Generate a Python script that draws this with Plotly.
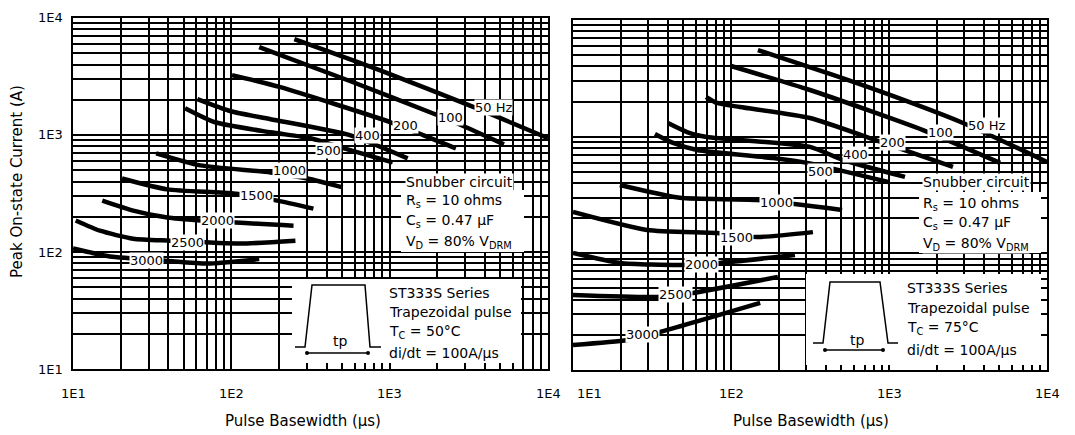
import numpy as np
import plotly.graph_objects as go

# ---------------- data ----------------
CURVE_LABELS = ["50 Hz", "100", "200", "400", "500", "1000", "1500", "2000", "2500", "3000"]

# Left panel  (Tc = 50 C)
L_50_X = [250, 880, 3400, 10000];            L_50_Y = [6600, 3550, 1730, 940]
L_100_X = [150, 566, 2010, 2940, 5270];      L_100_Y = [5640, 2880, 1476, 1189, 832]
L_200_X = [101, 204, 1014, 1641, 2620];      L_200_Y = [3250, 2564, 1285, 994, 769]
L_400_X = [61, 99, 177, 566, 1300];          L_400_Y = [2023, 1596, 1365, 994, 631]
L_500_X = [51, 79, 177, 316, 490, 1045];     L_500_Y = [1694, 1285, 1055, 938, 785, 583]
L_1000_X = [33.5, 63.7, 177, 303, 505];      L_1000_Y = [697, 550, 479, 425, 357]
L_1500_X = [20.4, 39.4, 103, 195, 330];      L_1500_Y = [425, 343, 316, 275, 235]
L_2000_X = [15.3, 24, 39.4, 63.7, 247];      L_2000_Y = [275, 226, 197, 186, 168]
L_2500_X = [10.4, 14.8, 24, 41, 114, 254];   L_2500_Y = [186, 152, 130, 125, 118, 125]
L_3000_X = [10, 17.1, 38.2, 70.5, 150];      L_3000_Y = [107, 91.5, 84.4, 79.6, 87]

L_LABEL_X = [4550, 2430, 1262, 726, 411, 233, 144, 81.5, 52.7, 29]
L_LABEL_Y = [1726, 1419, 1211, 994, 740, 499, 304, 186, 120.5, 84.4]

# Right panel (Tc = 75 C)
R_50_X = [148, 442, 1014, 2940, 10000];      R_50_Y = [5530, 3382, 2277, 1309, 607]
R_100_X = [100, 316, 1641, 5050];            R_100_Y = [4036, 2512, 1140, 596]
R_200_X = [69.5, 81.5, 114, 316, 815, 2540]; R_200_Y = [2188, 1945, 1795, 1445, 938, 550]
R_400_X = [39.9, 52.7, 70.5, 316, 512, 1262]; R_400_Y = [1309, 1096, 994, 817, 631, 452]
R_500_X = [33, 43, 61, 184.5, 303, 986];     R_500_Y = [1055, 883, 769, 656, 596, 409]
R_1000_X = [19.8, 47.5, 146, 505];           R_1000_Y = [385, 299, 287, 235]
R_1500_X = [10, 29.4, 81.5, 146, 330];       R_1500_Y = [226, 158.5, 149.6, 138, 152]
R_2000_X = [10, 19.8, 49.7, 85, 254];        R_2000_Y = [100.7, 82.8, 79.6, 82.8, 96.8]
R_2500_X = [10, 34, 57.4, 198];              R_2500_Y = [44, 42.3, 45.8, 62.8]
R_3000_X = [10, 22, 35.6, 153];              R_3000_Y = [16.4, 18.1, 21.2, 37.6]

R_LABEL_X = [4170, 2133, 1059, 618, 371, 193, 109, 65.5, 44.3, 27.7]
R_LABEL_Y = [1259, 1096, 883, 697, 499, 275, 138, 79.6, 44, 20]

DECADES = [10, 100, 1000]
MANTISSAS = [1, 2, 3, 4, 5, 6, 7, 8, 9]
MAJOR_TICKS = [10, 100, 1000, 10000]
MAJOR_TEXT = ["1E1", "1E2", "1E3", "1E4"]

LEFT_NOTE = ["Snubber circuit", "R<sub>s</sub> = 10 ohms", "C<sub>s</sub> = 0.47 µF",
             "V<sub>D</sub> = 80% V<sub>DRM</sub>"]
LEFT_BOX = ["ST333S Series", "Trapezoidal pulse", "T<sub>C</sub> = 50°C", "di/dt = 100A/µs"]
RIGHT_BOX = ["ST333S Series", "Trapezoidal pulse", "T<sub>C</sub> = 75°C", "di/dt = 100A/µs"]

# ---------------- figure ----------------
W, H = 1075, 435
OFF = 8          # page body margin of the html page
FONT = "DejaVu Sans"


def px(x):
    return (x - OFF) / W


def py(y):
    return 1 - (y - OFF) / H


def fnt(size):
    return dict(size=size, color="black", family=FONT)


grid_vals = [d * m for d in DECADES for m in MANTISSAS] + [10000]

fig = go.Figure()

left_curves = [(L_50_X, L_50_Y), (L_100_X, L_100_Y), (L_200_X, L_200_Y), (L_400_X, L_400_Y),
               (L_500_X, L_500_Y), (L_1000_X, L_1000_Y), (L_1500_X, L_1500_Y),
               (L_2000_X, L_2000_Y), (L_2500_X, L_2500_Y), (L_3000_X, L_3000_Y)]
right_curves = [(R_50_X, R_50_Y), (R_100_X, R_100_Y), (R_200_X, R_200_Y), (R_400_X, R_400_Y),
                (R_500_X, R_500_Y), (R_1000_X, R_1000_Y), (R_1500_X, R_1500_Y),
                (R_2000_X, R_2000_Y), (R_2500_X, R_2500_Y), (R_3000_X, R_3000_Y)]

for (xs, ys), name in zip(left_curves, CURVE_LABELS):
    fig.add_trace(go.Scatter(x=xs, y=ys, mode="lines", name=name, xaxis="x", yaxis="y",
                             line=dict(color="black", width=4.5, shape="spline", smoothing=0.6),
                             showlegend=False, hoverinfo="skip"))
for (xs, ys), name in zip(right_curves, CURVE_LABELS):
    fig.add_trace(go.Scatter(x=xs, y=ys, mode="lines", name=name, xaxis="x2", yaxis="y2",
                             line=dict(color="black", width=4.5, shape="spline", smoothing=0.6),
                             showlegend=False, hoverinfo="skip"))

annotations = []
for lab, x, y in zip(CURVE_LABELS, L_LABEL_X, L_LABEL_Y):
    annotations.append(dict(x=float(np.log10(x)), y=float(np.log10(y)), xref="x", yref="y",
                            text=lab, xanchor="center", yanchor="middle",
                            showarrow=False, bgcolor="white", borderpad=0, font=fnt(13)))
for lab, x, y in zip(CURVE_LABELS, R_LABEL_X, R_LABEL_Y):
    annotations.append(dict(x=float(np.log10(x)), y=float(np.log10(y)), xref="x2", yref="y2",
                            text=lab, xanchor="center", yanchor="middle",
                            showarrow=False, bgcolor="white", borderpad=0, font=fnt(13)))

# tick labels
for v, t in zip(MAJOR_TICKS, MAJOR_TEXT):
    lv = float(np.log10(v))
    annotations.append(dict(x=lv, y=py(393), xref="x", yref="paper", text=t,
                            xanchor="center", yanchor="middle", showarrow=False, font=fnt(13)))
    annotations.append(dict(x=lv, y=py(393), xref="x2", yref="paper", text=t,
                            xanchor="left" if v == 10 else "center", xshift=2 if v == 10 else 0,
                            yanchor="middle", showarrow=False, font=fnt(13)))
    annotations.append(dict(x=px(65), y=lv, xref="paper", yref="y", text=t,
                            xanchor="right", yanchor="middle", showarrow=False, font=fnt(13)))

# text blocks
for lines, x0, ys in [(LEFT_NOTE, 405, [182, 201, 221, 242]),
                      (LEFT_BOX, 388, [293, 312, 332, 353]),
                      (LEFT_NOTE, 922, [182, 204, 223, 244]),
                      (RIGHT_BOX, 906, [288, 308, 328, 350])]:
    for t, y in zip(lines, ys):
        annotations.append(dict(x=px(x0), y=py(y), xref="paper", yref="paper", text=t,
                                xanchor="left", yanchor="middle", showarrow=False,
                                bgcolor="white", borderpad=0, font=fnt(14)))

# tp labels
for x, y in [(340, 341), (857, 340)]:
    annotations.append(dict(x=px(x), y=py(y), xref="paper", yref="paper", text="tp",
                            xanchor="center", yanchor="middle", showarrow=False, font=fnt(14)))

# axis titles
annotations.append(dict(x=px(17), y=py(182), xref="paper", yref="paper",
                        text="Peak On-state Current (A)", textangle=-90, showarrow=False,
                        xanchor="center", yanchor="middle", font=fnt(15)))
for x in [303, 811]:
    annotations.append(dict(x=px(x), y=py(421), xref="paper", yref="paper",
                            text="Pulse Basewidth (µs)", showarrow=False,
                            xanchor="center", yanchor="middle", font=fnt(15)))

shapes = []
# white boxes behind the text blocks
for x0, y0, x1, y1 in [(401, 190, 524, 252), (292, 279, 521, 363),
                       (919, 192, 1041, 253), (806, 274, 1041, 365)]:
    shapes.append(dict(type="rect", xref="paper", yref="paper", x0=px(x0), x1=px(x1),
                       y0=py(y1), y1=py(y0), fillcolor="white", line=dict(width=0),
                       layer="above"))

# trapezoid pulse sketches
for (ex0, bl, tl, tr, br, ex1, ytop, ybot, ay, ax0, ax1) in [
        (295, 305, 312, 365, 370, 381, 285, 347, 353, 307, 368),
        (813, 823, 830, 880, 888, 898, 282, 343, 350, 825, 883)]:
    path = (f"M {px(ex0)},{py(ybot)} L {px(bl)},{py(ybot)} L {px(tl)},{py(ytop)} "
            f"L {px(tr)},{py(ytop)} L {px(br)},{py(ybot)} L {px(ex1)},{py(ybot)}")
    shapes.append(dict(type="path", xref="paper", yref="paper", path=path,
                       line=dict(color="black", width=1.5), layer="above"))
    shapes.append(dict(type="line", xref="paper", yref="paper", x0=px(ax0), x1=px(ax1),
                       y0=py(ay), y1=py(ay), line=dict(color="black", width=1.5), layer="above"))
    for cx in (ax0, ax1):
        shapes.append(dict(type="circle", xref="paper", yref="paper",
                           x0=px(cx - 2), x1=px(cx + 2), y0=py(ay + 2), y1=py(ay - 2),
                           fillcolor="black", line=dict(width=0), layer="above"))

axis_common = dict(type="log", range=[1, 4], tickvals=grid_vals, showticklabels=False,
                   automargin=False,
                   showgrid=True, gridcolor="black", gridwidth=1.5, zeroline=False,
                   showline=True, linecolor="black", linewidth=2, mirror=True, ticks="")

fig.update_layout(
    width=W, height=H, margin=dict(l=0, r=0, t=0, b=0, pad=0, autoexpand=False),
    paper_bgcolor="white", plot_bgcolor="white",
    font=dict(family=FONT, color="black"),
    xaxis=dict(domain=[px(73), px(548)], anchor="y", **axis_common),
    yaxis=dict(domain=[py(369), py(18)], anchor="x", **axis_common),
    xaxis2=dict(domain=[px(573), px(1047)], anchor="y2", **axis_common),
    yaxis2=dict(domain=[py(370), py(20)], anchor="x2", **axis_common),
    annotations=annotations, shapes=shapes,
)

fig.write_html("out.html")
